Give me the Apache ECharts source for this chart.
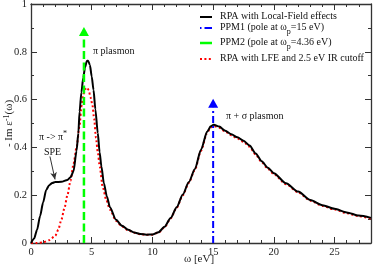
<!DOCTYPE html>
<html><head><meta charset="utf-8">
<script src="https://cdn.jsdelivr.net/npm/echarts@6/dist/echarts.min.js"></script>
<style>html,body{margin:0;padding:0;background:#fff}#c{width:374px;height:266px}</style>
</head><body><div id="c"></div>
<script>
// ---- data ----
const rpaX = [0,0.25,0.5,0.75,1.0,1.25,1.5,1.75,2.0,2.5,3.0,3.25,3.5,3.75,3.9,4.0,4.15,4.3,4.45,4.6,4.7,4.85,5.0,5.15,5.3,5.5,5.65,5.8,6.0,6.25,6.5,7.0,7.5,8.0,8.5,9.0,9.5,10.0,10.5,11.0,11.5,12.0,12.5,13.0,13.5,14.0,14.5,14.8,15.05,15.5,16.0,16.5,17.0,17.5,18.0,18.5,19.0,19.5,20.0,21.0,22.0,23.0,24.0,25.0,26.0,27.0,28.0];
const rpaY = [0,0.018,0.055,0.113,0.17,0.222,0.242,0.251,0.255,0.256,0.264,0.275,0.3,0.385,0.46,0.55,0.63,0.69,0.735,0.762,0.763,0.745,0.697,0.64,0.56,0.46,0.38,0.32,0.25,0.195,0.15,0.097,0.072,0.055,0.044,0.038,0.035,0.036,0.045,0.068,0.105,0.15,0.203,0.255,0.31,0.39,0.465,0.488,0.495,0.487,0.47,0.455,0.442,0.428,0.408,0.375,0.342,0.315,0.292,0.25,0.215,0.18,0.158,0.143,0.128,0.115,0.105];
const irX = [0,0.5,1.0,1.5,2.0,2.25,2.5,2.75,3.0,3.25,3.5,3.75,4.0,4.15,4.3,4.45,4.6,4.75,4.9,5.05,5.2,5.35,5.5,5.66,5.9,6.2,6.5,7.0,7.5,8.0,8.5,9.0,9.5,10.0,10.5,11.0,11.5,12.0,12.5,13.0,13.5,14.0,14.5,14.8,15.05,15.5,16.0,16.5,17.0,17.5,18.0,18.5,19.0,19.5,20.0,21.0,22.0,23.0,24.0,25.0,26.0,27.0,28.0];
const irY = [0,0,0.003,0.012,0.03,0.056,0.097,0.145,0.2,0.26,0.33,0.4,0.49,0.57,0.62,0.643,0.65,0.64,0.61,0.58,0.52,0.44,0.38,0.32,0.235,0.18,0.14,0.093,0.069,0.053,0.043,0.037,0.034,0.035,0.044,0.066,0.103,0.148,0.2,0.252,0.307,0.386,0.46,0.484,0.49,0.482,0.466,0.451,0.437,0.423,0.403,0.37,0.338,0.311,0.288,0.246,0.212,0.177,0.155,0.14,0.125,0.112,0.102];
const ppm1X = [15, 15];
const ppm1Y = [0, 0.566];
const ppm2X = [4.36, 4.36];
const ppm2Y = [0, 0.866];
const arrowFrom = [1.56, 0.362];
const arrowTo = [1.98, 0.266];
const seriesNames = ['RPA with Local-Field effects','PPM1 (pole at \u03c9p=15 eV)','PPM2 (pole at \u03c9p=4.36 eV)','RPA with LFE and 2.5 eV IR cutoff'];
const xTicks = [0,5,10,15,20,25];
const yTicks = [0,0.2,0.4,0.6,0.8,1];

const zip = (a,b)=>a.map((v,i)=>[v,b[i]]);
const FONT = '"Liberation Serif","DejaVu Serif",serif';
const AX = '#333';
const FS = 10;

const chart = echarts.init(document.getElementById('c'), null, {renderer:'canvas'});

function axisCommon(showLabel){
  return {
    nameMoveOverlap:false,
    axisLine:{show:true,onZero:false,lineStyle:{color:AX,width:1.3}},
    axisTick:{show:true,inside:true,length:6,lineStyle:{color:AX,width:1}},
    splitLine:{show:false},
    axisLabel:{show:showLabel,color:'#222',fontFamily:FONT,fontSize:10.5,margin:4,
      formatter:v=>(v===0||v===1)?String(v):(Math.abs(v)<1&&String(v).indexOf('.')>=0?v.toFixed(1):String(v))}
  };
}

const arrowItem = (x,y,color)=>({value:[x,y],symbol:'triangle',symbolSize:[10,9],symbolOffset:[0,-4.5],itemStyle:{color:color}});

const xLab = axisCommon(true).axisLabel;
xLab.showMaxLabel = false;

const option = {
  animation:false,
  backgroundColor:'#fff',
  grid:{left:31,right:3,top:4,bottom:23,containLabel:false,outerBoundsMode:'none'},
  xAxis:[
    Object.assign(axisCommon(true),{type:'value',min:0,max:28,interval:5,axisLabel:xLab,
      minorTick:{show:true,splitNumber:5,length:3,lineStyle:{color:AX,width:1}},
      name:'\u03c9 [eV]',nameLocation:'middle',nameGap:10.5,
      nameTextStyle:{fontFamily:FONT,fontSize:11,color:'#222',padding:[0,4,0,0]}}),
    Object.assign(axisCommon(false),{type:'value',position:'top',min:0,max:28,interval:5,
      minorTick:{show:true,splitNumber:5,length:3,lineStyle:{color:AX,width:1}}})
  ],
  yAxis:[
    Object.assign(axisCommon(true),{type:'value',min:0,max:1,interval:0.2,
      minorTick:{show:true,splitNumber:2,length:3,lineStyle:{color:AX,width:1}},
      name:'- Im \u03b5{sup|-1}(\u03c9)',nameLocation:'middle',nameGap:15,nameRotate:90,
      nameTextStyle:{fontFamily:FONT,fontSize:11,color:'#222',
        rich:{sup:{fontFamily:FONT,fontSize:8,color:'#222',verticalAlign:'top',padding:[0,0,5,0]}}}}),
    Object.assign(axisCommon(false),{type:'value',position:'right',min:0,max:1,interval:0.2,
      minorTick:{show:true,splitNumber:2,length:3,lineStyle:{color:AX,width:1}}})
  ],
  series:[
    {name:seriesNames[3],type:'line',data:zip(irX,irY),showSymbol:false,smooth:0.25,smoothMonotone:'x',z:3,
      lineStyle:{color:'#ff0000',width:2,type:[2,2.4],cap:'butt'}},
    {name:seriesNames[0],type:'line',data:zip(rpaX,rpaY),showSymbol:false,smooth:0.25,smoothMonotone:'x',z:4,
      lineStyle:{color:'#000',width:2},
      markLine:{silent:true,symbol:['none','arrow'],symbolSize:[5,7],
        lineStyle:{color:'#333',width:1,type:'solid'},label:{show:false},
        data:[[{coord:arrowFrom},{coord:arrowTo}]]}},
    {name:seriesNames[2],type:'line',z:5,
      data:[{value:[ppm2X[0],ppm2Y[0]],symbol:'none'},arrowItem(ppm2X[1],ppm2Y[1],'#00ff00')],
      showSymbol:true,lineStyle:{color:'#00ff00',width:2.5,type:[8,3.5]}},
    {name:seriesNames[1],type:'line',z:5,
      data:[{value:[ppm1X[0],ppm1Y[0]],symbol:'none'},arrowItem(ppm1X[1],ppm1Y[1],'#0000ff')],
      showSymbol:true,lineStyle:{color:'#0000ff',width:2,type:[7,3,2,3]}}
  ],
  graphic:[
    // legend samples
    {type:'line',shape:{x1:200,y1:17,x2:212,y2:17},style:{stroke:'#000',lineWidth:2}},
    {type:'line',shape:{x1:200,y1:28,x2:212,y2:28},style:{stroke:'#0000ff',lineWidth:2,lineDash:[1.5,3,7,0]}},
    {type:'line',shape:{x1:200,y1:43,x2:212,y2:43},style:{stroke:'#00ff00',lineWidth:2.5}},
    {type:'line',shape:{x1:200,y1:59,x2:212,y2:59},style:{stroke:'#ff0000',lineWidth:2,lineDash:[2,2.4]}},
    {type:'text',left:220,top:11.5,style:{text:seriesNames[0],font:FS+'px '+FONT,fill:'#111'}},
    {type:'text',left:220,top:22.5,style:{text:'{a|PPM1 (pole at \u03c9}{s|p}{a|=15 eV)}',fill:'#111',
      rich:{a:{fontFamily:FONT,fontSize:FS,fill:'#111'},s:{fontFamily:FONT,fontSize:8,fill:'#111',padding:[8,0,0,0]}}}},
    {type:'text',left:220,top:37.5,style:{text:'{a|PPM2 (pole at \u03c9}{s|p}{a|=4.36 eV)}',fill:'#111',
      rich:{a:{fontFamily:FONT,fontSize:FS,fill:'#111'},s:{fontFamily:FONT,fontSize:8,fill:'#111',padding:[8,0,0,0]}}}},
    {type:'text',left:220,top:53.5,style:{text:seriesNames[3],font:FS+'px '+FONT,fill:'#111'}},
    // annotations
    {type:'text',left:93,top:46.5,style:{text:'\u03c0 plasmon',font:FS+'px '+FONT,fill:'#111'}},
    {type:'text',left:226,top:111.5,style:{text:'\u03c0 + \u03c3 plasmon',font:FS+'px '+FONT,fill:'#111'}},
    {type:'text',left:39,top:130,style:{text:'{a|\u03c0 -> \u03c0}{s|*}',
      rich:{a:{fontFamily:FONT,fontSize:FS,fill:'#111'},s:{fontFamily:FONT,fontSize:8,fill:'#111',padding:[0,0,6,0]}}}},
    {type:'text',left:44,top:147,style:{text:'SPE',font:FS+'px '+FONT,fill:'#111'}}
  ]
};
chart.setOption(option);
</script>
</body></html>
